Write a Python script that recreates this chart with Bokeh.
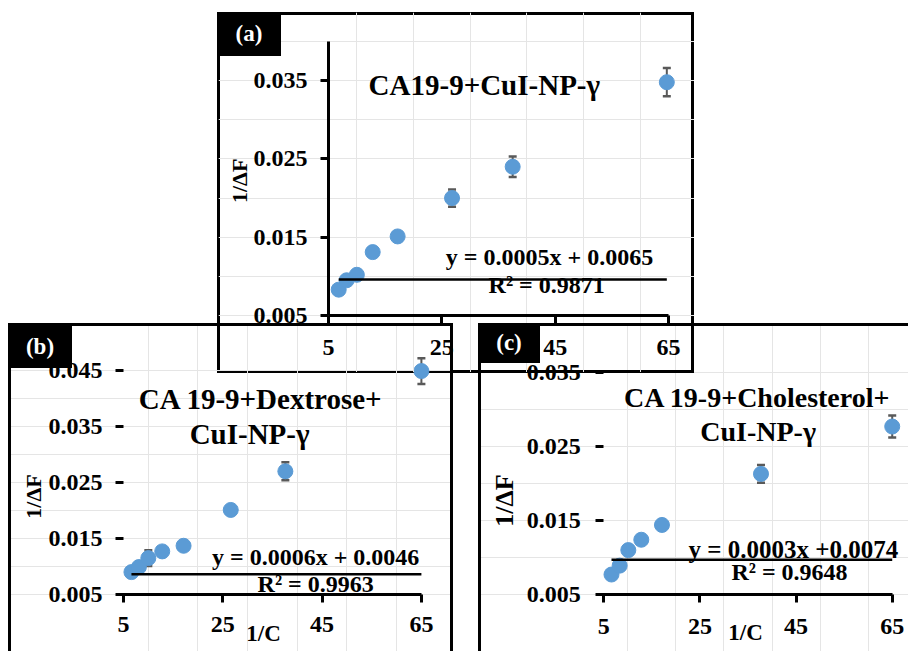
import numpy as np
from bokeh.plotting import figure
from bokeh.models import (Div, Label, Range1d, FixedTicker, PrintfTickFormatter,
                          Column, LinearAxis)
from bokeh.embed import file_html
from bokeh.resources import INLINE

# ---------------- data ----------------
x_ticks = [5, 25, 45, 65]
y_ticks_a = [0.005, 0.015, 0.025, 0.035]
y_ticks_b = [0.005, 0.015, 0.025, 0.035, 0.045]
y_ticks_c = [0.005, 0.015, 0.025, 0.035]

# (a) CA19-9 + CuI-NP-gamma
x_a = [6.8, 8.2, 10.0, 12.8, 17.2, 26.8, 37.5, 64.7]
y_a = [0.0083, 0.0095, 0.0102, 0.0131, 0.0151, 0.0200, 0.0240, 0.0348]
err_a = [0.0004, 0.0004, 0.0004, 0.0004, 0.0005, 0.0011, 0.0013, 0.0018]
trend_a = 0.0096
title_a = ["CA19-9+CuI-NP-γ"]
eq_a = "y = 0.0005x + 0.0065"
r2_a = "R² = 0.9871"

# (b) CA19-9 + Dextrose + CuI-NP-gamma
x_b = [6.6, 8.1, 10.0, 12.8, 17.1, 26.6, 37.6, 65.0]
y_b = [0.0090, 0.0099, 0.0115, 0.0127, 0.0137, 0.0201, 0.0270, 0.0449]
err_b = [0.0004, 0.0004, 0.0014, 0.0004, 0.0004, 0.0006, 0.0016, 0.0023]
trend_b = 0.0086
title_b = ["CA 19-9+Dextrose+", "CuI-NP-γ"]
eq_b = "y = 0.0006x + 0.0046"
r2_b = "R² = 0.9963"

# (c) CA19-9 + Cholesterol + CuI-NP-gamma
x_c = [6.6, 8.3, 10.1, 12.8, 17.1, 37.7, 65.0]
y_c = [0.0077, 0.0089, 0.0110, 0.0124, 0.0144, 0.0213, 0.0277]
err_c = [0.0003, 0.0003, 0.0003, 0.0003, 0.0003, 0.0012, 0.0015]
trend_c = 0.0097
title_c = ["CA 19-9+Cholesterol+", "CuI-NP-γ"]
eq_c = "y = 0.0003x +0.0074"
r2_c = "R² = 0.9648"

y_title = "1/ΔF"
x_title = "1/C"

FONT = "Liberation Serif"
BLUE = "#5B9BD5"
GREY = "#595959"


def make_panel(xs, ys, errs, trend, yticks, spec, show_yline):
    # frame fills the whole panel; ranges chosen so that the axis origin sits
    # at the wanted pixel position inside the panel
    left, top, w, h = spec["left"], spec["top"], spec["w"], spec["h"]
    x0, sx, y0, sy = spec["x0px"], spec["sx"], spec["y0px"], spec["sy"]
    xo, yo = x_ticks[0], yticks[0]
    xr = Range1d(xo - (x0 - left) / sx, xo + (left + w - x0) / sx)
    yr = Range1d(yo - (top + h - y0) / sy, yo + (y0 - top) / sy)
    p = figure(width=w, height=h, x_range=xr, y_range=yr,
               output_backend="svg", toolbar_location=None,
               x_axis_location=None, y_axis_location=None,
               min_border=0, min_border_left=0, min_border_right=0,
               min_border_top=0, min_border_bottom=0,
               background_fill_color=None, border_fill_color=None,
               outline_line_color=None, margin=0,
               styles={"position": "absolute", "left": f"{left}px", "top": f"{top}px"})

    xaxis = LinearAxis(fixed_location=yo, ticker=FixedTicker(ticks=x_ticks),
                       bounds=(spec["xline0"], x_ticks[-1]),
                       major_label_standoff=spec["xs"])
    yaxis = LinearAxis(fixed_location=xo, ticker=FixedTicker(ticks=yticks),
                       bounds=(yticks[0], spec["yline1"]),
                       formatter=PrintfTickFormatter(format="%.3f"),
                       major_label_standoff=spec["ys"])
    for ax in (xaxis, yaxis):
        ax.major_label_text_font = FONT
        ax.major_label_text_font_style = "bold"
        ax.major_label_text_font_size = "24px"
        ax.major_label_text_color = "black"
        ax.major_tick_line_color = "black"
        ax.major_tick_line_width = 3
        ax.major_tick_in = 0
        ax.major_tick_out = 8
        ax.minor_tick_line_color = None
        ax.axis_line_width = 3
        ax.axis_line_color = "black"
    if not show_yline:
        yaxis.axis_line_color = None
    p.add_layout(xaxis, "below")
    p.add_layout(yaxis, "left")

    xs_ = np.array(xs)
    ys_ = np.array(ys)
    er_ = np.array(errs)
    lo = ys_ - er_
    hi = ys_ + er_
    p.segment(x0=xs_, y0=lo, x1=xs_, y1=hi, line_color=GREY, line_width=2)
    p.scatter(x=np.concatenate([xs_, xs_]), y=np.concatenate([lo, hi]),
              marker="dash", size=8, line_color=GREY, line_width=2.5)
    p.scatter(x=xs_, y=ys_, size=15, fill_color=BLUE, line_color=BLUE)
    p.line(x=[xs[0], xs[-1]], y=[trend, trend], line_color="black", line_width=2.5)
    return p


def add_text(p, text, x, y, size, align="center", baseline="alphabetic", angle=0.0):
    p.add_layout(Label(x=x, y=y, text=text, text_font=FONT, text_font_style="bold",
                       text_font_size=size, text_color="black", text_align=align,
                       text_baseline=baseline, angle=angle))


spec_a = dict(left=218, top=12, w=476, h=360, x0px=328, sx=5.667, y0px=315, sy=7829,
              xline0=5, yline1=0.04, xs=16, ys=13)
spec_b = dict(left=10, top=323, w=440, h=328, x0px=123, sx=4.965, y0px=594, sy=5600,
              xline0=3.8, yline1=0.045, xs=14, ys=13)
spec_c = dict(left=480, top=323, w=428, h=328, x0px=603.3, sx=4.807, y0px=594, sy=7400,
              xline0=3.8, yline1=0.035, xs=16, ys=15)

pa = make_panel(x_a, y_a, err_a, trend_a, y_ticks_a, spec_a, True)
add_text(pa, title_a[0], 32.5, 0.0344, "29px")
add_text(pa, eq_a, 44.0, 0.0125, "24px")
add_text(pa, r2_a, 43.5, 0.0089, "24px")
add_text(pa, y_title, -10.7, 0.0222, "22px", baseline="middle", angle=np.pi / 2)

pb = make_panel(x_b, y_b, err_b, trend_b, y_ticks_b, spec_b, False)
add_text(pb, title_b[0], 32.7, 0.0400, "29px")
add_text(pb, title_b[1], 30.4, 0.03375, "29px")
add_text(pb, eq_b, 43.7, 0.01166, "24px")
add_text(pb, r2_b, 43.7, 0.00691, "24px")
add_text(pb, y_title, -13.1, 0.0225, "22px", baseline="middle", angle=np.pi / 2)
add_text(pb, x_title, 33.2, -0.0020, "23px", baseline="middle")

pc = make_panel(x_c, y_c, err_c, trend_c, y_ticks_c, spec_c, False)
add_text(pc, title_c[0], 36.97, 0.03162, "28px")
add_text(pc, title_c[1], 37.1, 0.02703, "28px")
add_text(pc, eq_c, 44.46, 0.01104, "25px")
add_text(pc, r2_c, 43.63, 0.00801, "24px")
add_text(pc, y_title, -15.66, 0.0177, "26px", baseline="middle", angle=np.pi / 2)
add_text(pc, x_title, 34.48, -0.00014, "23px", baseline="middle")


def frame_div(left, top, width, height, sides):
    css = {"position": "absolute", "left": f"{left}px", "top": f"{top}px",
           "box-sizing": "border-box"}
    for s in sides:
        css[f"border-{s}"] = "3px solid black"
    return Div(text="", width=width, height=height, margin=0, styles=css)


def tag_div(label, left, top, width, height):
    css = {"position": "absolute", "left": f"{left}px", "top": f"{top}px",
           "background-color": "black"}
    html = (f'<div style="width:{width}px;height:{height}px;line-height:{height}px;'
            f'text-align:center;color:white;font-family:\'{FONT}\';font-weight:bold;'
            f'font-size:23px;">{label}</div>')
    return Div(text=html, width=width, height=height, margin=0, styles=css)


border_a = frame_div(217, 12, 477, 361, ["top", "left", "right", "bottom"])
border_b = frame_div(8, 323, 445, 328, ["top", "left", "right"])
border_c = frame_div(478, 323, 430, 328, ["top", "left"])

tag_a = tag_div("(a)", 217, 12, 64, 44)
tag_b = tag_div("(b)", 8, 325, 64, 43)
tag_c = tag_div("(c)", 478, 323, 62, 40)

root = Column(children=[pc, border_a, pb, pa, border_b, border_c, tag_a, tag_b, tag_c],
              width=908, height=651, margin=0,
              styles={"position": "relative", "overflow": "hidden"})

open("out.html", "w").write(file_html(root, INLINE))
